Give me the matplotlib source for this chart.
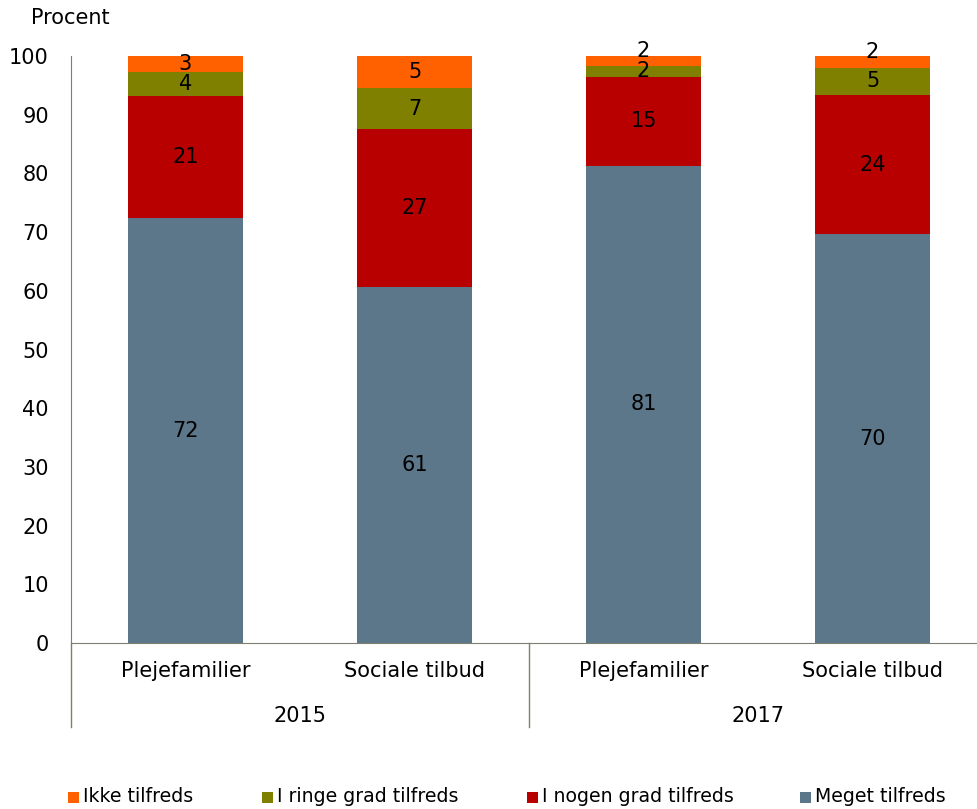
import matplotlib
matplotlib.use("Agg")
import matplotlib.pyplot as plt
import matplotlib.transforms as mtransforms
import numpy as np

plt.rcParams['font.family'] = ['DejaVu Sans']

categories = ["Plejefamilier", "Sociale tilbud", "Plejefamilier", "Sociale tilbud"]
groups = ["2015", "2017"]
series_names = ["Meget tilfreds", "I nogen grad tilfreds", "I ringe grad tilfreds", "Ikke tilfreds"]
meget = [72.4, 60.6, 81.3, 69.6]
nogen = [20.8, 26.9, 15.2, 23.8]
ringe = [4.1, 7.1, 1.8, 4.6]
ikke = [2.7, 5.4, 1.7, 2.0]
colors = ["#5B7789", "#B80000", "#7F7F00", "#FF6000"]
yticks = [0, 10, 20, 30, 40, 50, 60, 70, 80, 90, 100]

W, H = 977, 809
fig = plt.figure(figsize=(W / 100, H / 100), dpi=100)
left_px, right_px, top_px, bot_px = 71, 977, 56, 643
ax = fig.add_axes([left_px / W, 1 - bot_px / H, (right_px - left_px) / W, (bot_px - top_px) / H])

x = np.arange(len(categories))
series = [meget, nogen, ringe, ikke]
bottom = np.zeros(len(categories))
fs = 15
for si, (vals, col) in enumerate(zip(series, colors)):
    vals = np.array(vals)
    ax.bar(x, vals, width=0.5, bottom=bottom, color=col, linewidth=0)
    for xi, b, v in zip(x, bottom, vals):
        yc = b + v / 2
        if si == len(series) - 1 and v < 2.5:
            yc += 1.7
        ax.text(xi, yc, f"{v:.0f}", ha="center", va="center", fontsize=fs, color="black")
    bottom += vals

ax.set_xlim(-0.5, -0.5 + (right_px - left_px) / 229)
ax.set_ylim(0, 100)
ax.set_yticks(yticks)
ax.set_yticklabels([str(t) for t in yticks], fontsize=fs)
ax.tick_params(axis="y", length=0, pad=16)
ax.set_xticks([])
for s in ["top", "right"]:
    ax.spines[s].set_visible(False)
spine_col = "#7F7F6F"
ax.spines["left"].set_color(spine_col)
ax.spines["bottom"].set_color(spine_col)
ax.spines["left"].set_bounds(0, 100)

trans = mtransforms.blended_transform_factory(ax.transData, ax.transAxes)
y_line_bottom = (bot_px - 727) / (bot_px - top_px)
ax.plot([-0.5, -0.5], [0, y_line_bottom], transform=trans, color=spine_col, lw=1, clip_on=False)
ax.plot([1.5, 1.5], [0, y_line_bottom], transform=trans, color=spine_col, lw=1, clip_on=False)

y_cat = (bot_px - 671) / (bot_px - top_px)
y_grp = (bot_px - 716) / (bot_px - top_px)
for xi, c in zip(x, categories):
    ax.text(xi, y_cat, c, transform=trans, ha="center", va="center", fontsize=fs)
for gi, g in enumerate(groups):
    ax.text(gi * 2 + 0.5, y_grp, g, transform=trans, ha="center", va="center", fontsize=fs)

fig.text(31 / W, 1 - 18 / H, "Procent", ha="left", va="center", fontsize=fs)

# legend
leg_x = [68, 262, 527, 800]
leg_order = [3, 2, 1, 0]
for lx, si in zip(leg_x, leg_order):
    fig.patches.append(plt.Rectangle((lx / W, 1 - 803 / H), 11 / W, 11 / H, transform=fig.transFigure,
                                     facecolor=colors[si], edgecolor="none"))
    fig.text((lx + 15) / W, 1 - 797 / H, series_names[si], ha="left", va="center", fontsize=13.6)

fig.savefig("out.png", dpi=100)
